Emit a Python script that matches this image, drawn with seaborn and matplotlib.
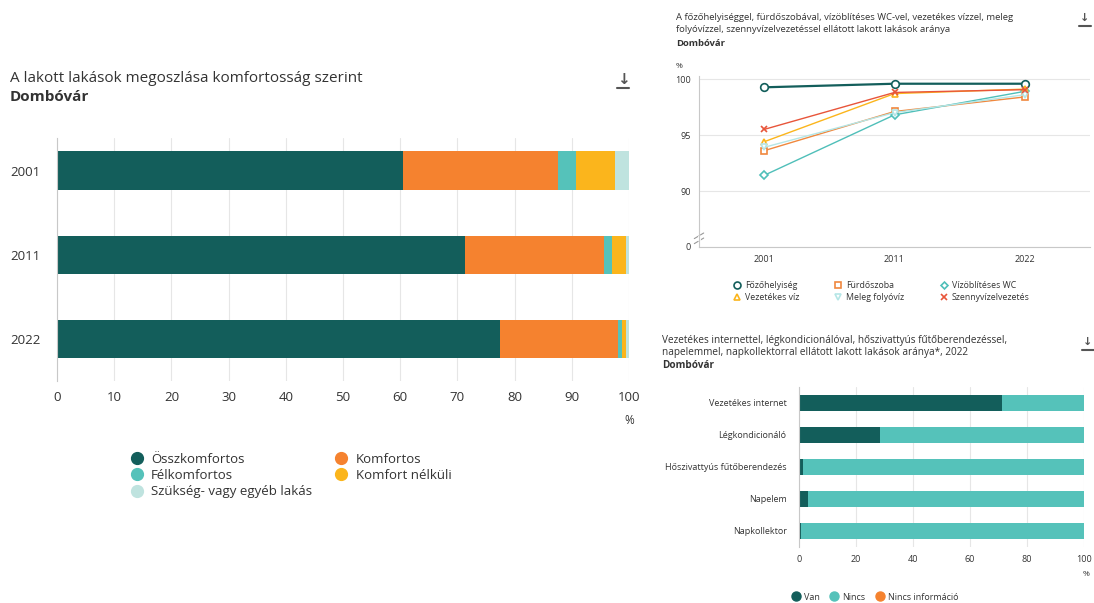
import numpy as np
import pandas as pd
import matplotlib
matplotlib.use('Agg')
import matplotlib.pyplot as plt
from matplotlib.lines import Line2D
import seaborn as sns

# --- data: left chart (komfortosság) ---
years = ['2001', '2011', '2022']
osszkomfortos = [60.5, 71.4, 77.5]
komfortos = [27.1, 24.2, 20.5]
felkomfortos = [3.1, 1.5, 0.7]
komfort_nelkuli = [6.8, 2.4, 0.8]
szukseg = [2.5, 0.5, 0.5]

# --- data: top right lines ---
line_years = ['2001', '2011', '2022']
fozohelyiseg = [99.26, 99.58, 99.58]
furdoszoba = [93.6, 97.1, 98.4]
vizoblites_wc = [91.4, 96.8, 98.9]
vezetekes_viz = [94.4, 98.7, 99.1]
meleg_folyoviz = [93.9, 97.0, 98.6]
szennyviz = [95.5, 98.8, 99.05]

# --- data: bottom right (2022 equipment) ---
eszkozok = ['Vezetékes internet', 'Légkondicionáló', 'Hőszivattyús fűtőberendezés', 'Napelem', 'Napkollektor']
van = [71.3, 28.4, 1.4, 3.0, 0.7]
nincs = [28.7, 71.6, 98.6, 97.0, 99.3]
nincs_info = [0, 0, 0, 0, 0]

DARK = '#135e5b'
ORANGE = '#f5822f'
TEAL = '#55c2ba'
YELLOW = '#fbb51c'
LIGHT = '#bfe3df'
RED = '#e8553a'
LCYAN = '#b5e6e6'
GRID = '#e6e6e6'
AXC = '#c8c8c8'
TXT = '#333333'

sns.set_theme(style='white')
plt.rcParams['font.family'] = ['Open Sans', 'DejaVu Sans']

W, H = 1094, 603
fig = plt.figure(figsize=(W / 100, H / 100), dpi=100)


def box(x0, y0, x1, y1):
    return [x0 / W, 1 - y1 / H, (x1 - x0) / W, (y1 - y0) / H]


def download_icon(x, y, size=11):
    fig.text(x / W, 1 - y / H, '↓', fontsize=size, color='#555555', ha='center', va='center',
             family='DejaVu Sans', weight='bold')
    fig.add_artist(Line2D([(x - 6) / W, (x + 6) / W], [1 - (y + 8) / H] * 2, color='#555555', lw=1.5))


def stacked(ax, cats, series, colors, width):
    cum = np.cumsum(np.array(series), axis=0)
    for k in range(len(series) - 1, -1, -1):
        df = pd.DataFrame({'cat': cats, 'val': cum[k]})
        sns.barplot(data=df, x='val', y='cat', order=cats, color=colors[k], width=width,
                    linewidth=0, saturation=1, ax=ax, orient='h')


# ================= left chart =================
fig.text(10 / W, 1 - 78 / H, 'A lakott lakások megoszlása komfortosság szerint', fontsize=11,
         color=TXT, va='center')
fig.text(10 / W, 1 - 97 / H, 'Dombóvár', fontsize=11, color=TXT, weight='bold', va='center')
download_icon(623, 80)

ax1 = fig.add_axes(box(57, 138, 629, 381))
stacked(ax1, years, [osszkomfortos, komfortos, felkomfortos, komfort_nelkuli, szukseg],
        [DARK, ORANGE, TEAL, YELLOW, LIGHT], 0.46)
top1 = -0.39
ax1.set_ylim(2.5, top1)
ax1.set_xlim(0, 100)
ax1.set_xticks(range(0, 101, 10))
ax1.set_axisbelow(True)
ax1.grid(axis='x', color=GRID, lw=0.8)
ax1.set_xlabel('')
ax1.set_ylabel('')
for s in ['top', 'right', 'bottom']:
    ax1.spines[s].set_visible(False)
ax1.spines['left'].set_color(AXC)
ax1.spines['left'].set_linewidth(0.8)
ax1.tick_params(axis='x', length=0, labelsize=9.5, labelcolor=TXT, pad=7)
ax1.tick_params(axis='y', which='major', length=0, labelsize=9.5, labelcolor=TXT, pad=12)
ax1.set_yticks([top1, 0.5, 1.5, 2.5], minor=True)
ax1.tick_params(axis='y', which='minor', length=5, color=AXC, width=0.8)
fig.text(629 / W, 1 - 421 / H, '%', fontsize=8.5, color=TXT, ha='center', va='center')

leg_labels = ['Összkomfortos', 'Félkomfortos', 'Szükség- vagy egyéb lakás', 'Komfortos', 'Komfort nélküli']
leg_colors = [DARK, TEAL, LIGHT, ORANGE, YELLOW]
handles = [Line2D([], [], marker='o', ls='', ms=8.5, mfc=c, mec=c) for c in leg_colors]
fig.legend(handles, leg_labels, ncol=2, loc='upper left', bbox_to_anchor=(122 / W, 1 - 446 / H),
           frameon=False, fontsize=9.5, handletextpad=0.5, columnspacing=1.6, labelspacing=0.25,
           borderpad=0, handlelength=1.2, labelcolor=TXT)

# ================= top right lines =================
fig.text(676 / W, 1 - 17 / H, 'A főzőhelyiséggel, fürdőszobával, vízöblítéses WC-vel, vezetékes vízzel, meleg',
         fontsize=6.8, color=TXT, va='center')
fig.text(676 / W, 1 - 30 / H, 'folyóvízzel, szennyvízelvezetéssel ellátott lakott lakások aránya',
         fontsize=6.8, color=TXT, va='center')
fig.text(676 / W, 1 - 43 / H, 'Dombóvár', fontsize=6.8, color=TXT, weight='bold', va='center')
download_icon(1085, 18, size=8)
fig.text(676 / W, 1 - 66 / H, '%', fontsize=6, color=TXT, va='center')

ax2 = fig.add_axes(box(699, 76, 1090, 247))
line_specs = [
    ('Főzőhelyiség', fozohelyiseg, DARK, 'o', 1.6, 5.5),
    ('Fürdőszoba', furdoszoba, '#f0883e', 's', 1.0, 5),
    ('Vízöblítéses WC', vizoblites_wc, '#4fbfb9', 'D', 1.0, 4),
    ('Vezetékes víz', vezetekes_viz, YELLOW, '^', 1.0, 5),
    ('Meleg folyóvíz', meleg_folyoviz, LCYAN, 'v', 1.0, 5),
    ('Szennyvízelvezetés', szennyviz, RED, 'x', 1.0, 5),
]
xpos = np.arange(len(line_years))
for name, vals, col, mk, lw, ms in line_specs:
    sns.lineplot(x=xpos, y=vals, ax=ax2, color=col, lw=lw, marker=mk, ms=ms,
                 mfc='white' if mk != 'x' else col, mec=col, mew=1.2, clip_on=False)
ax2.set_xlim(-0.5, 2.5)
ax2.set_ylim(85, 100.27)
ax2.set_yticks([85, 90, 95, 100])
ax2.set_yticklabels(['0', '90', '95', '100'])
ax2.set_xticks(xpos)
ax2.set_xticklabels(line_years)
ax2.set_xticks([0.5, 1.5, 2.5], minor=True)
ax2.grid(axis='y', color=GRID, lw=0.8)
ax2.set_axisbelow(True)
for s in ['top', 'right']:
    ax2.spines[s].set_visible(False)
for s in ['left', 'bottom']:
    ax2.spines[s].set_color(AXC)
    ax2.spines[s].set_linewidth(0.8)
ax2.tick_params(axis='both', which='major', length=0, labelsize=6.5, labelcolor=TXT, pad=6)
ax2.tick_params(axis='x', which='minor', length=4, color=AXC, width=0.8)
# axis break marks
tr = ax2.get_yaxis_transform()
for dy in (85.55, 86.0):
    ax2.plot([-0.012, 0.012], [dy - 0.25, dy + 0.25], transform=tr, color='#999999', lw=0.8,
             clip_on=False)
ax2.plot([0, 0], [85.6, 85.95], transform=tr, color='white', lw=2, clip_on=False)

lhandles = []
for name, vals, col, mk, lw, ms in line_specs:
    lhandles.append(Line2D([], [], ls='', marker=mk, ms=ms - 0.5, mfc='white' if mk != 'x' else col,
                           mec=col, mew=1.2))
order = [0, 3, 1, 4, 2, 5]
fig.legend([lhandles[i] for i in order], [line_specs[i][0] for i in order], ncol=3, loc='upper left',
           bbox_to_anchor=(728 / W, 1 - 277 / H), frameon=False, fontsize=6.3, handletextpad=0.4,
           columnspacing=4.0, labelspacing=0.35, borderpad=0, handlelength=1.0, labelcolor=TXT)

# ================= bottom right bars =================
fig.text(662 / W, 1 - 340 / H, 'Vezetékes internettel, légkondicionálóval, hőszivattyús fűtőberendezéssel,',
         fontsize=7.2, color=TXT, va='center')
fig.text(662 / W, 1 - 353 / H, 'napelemmel, napkollektorral ellátott lakott lakások aránya*, 2022',
         fontsize=7.2, color=TXT, va='center')
fig.text(662 / W, 1 - 366 / H, 'Dombóvár', fontsize=7.2, color=TXT, weight='bold', va='center')
download_icon(1088, 342, size=8)

ax3 = fig.add_axes(box(799, 387, 1084, 547))
stacked(ax3, eszkozok, [van, nincs, nincs_info], [DARK, TEAL, ORANGE], 0.47)
ax3.set_ylim(4.5, -0.5)
ax3.set_xlim(0, 100)
ax3.set_xticks(range(0, 101, 20))
ax3.set_axisbelow(True)
ax3.grid(axis='x', color=GRID, lw=0.8)
ax3.set_xlabel('')
ax3.set_ylabel('')
for s in ['top', 'right', 'bottom']:
    ax3.spines[s].set_visible(False)
ax3.spines['left'].set_color(AXC)
ax3.spines['left'].set_linewidth(0.8)
ax3.tick_params(axis='x', length=0, labelsize=6.5, labelcolor=TXT, pad=6)
ax3.tick_params(axis='y', which='major', length=0, labelsize=6.5, labelcolor=TXT, pad=9)
ax3.set_yticks([-0.5, 0.5, 1.5, 2.5, 3.5, 4.5], minor=True)
ax3.tick_params(axis='y', which='minor', length=4, color=AXC, width=0.8)
fig.text(1086 / W, 1 - 575 / H, '%', fontsize=6, color=TXT, ha='center', va='center')

bh = [Line2D([], [], marker='o', ls='', ms=6.5, mfc=c, mec=c) for c in [DARK, TEAL, ORANGE]]
fig.legend(bh, ['Van', 'Nincs', 'Nincs információ'], ncol=3, loc='center left',
           bbox_to_anchor=(786 / W, 1 - 597 / H), frameon=False, fontsize=6.5, handletextpad=0.3,
           columnspacing=1.0, borderpad=0, handlelength=1.2, labelcolor=TXT)

fig.savefig('out.png', dpi=100, facecolor='white')
